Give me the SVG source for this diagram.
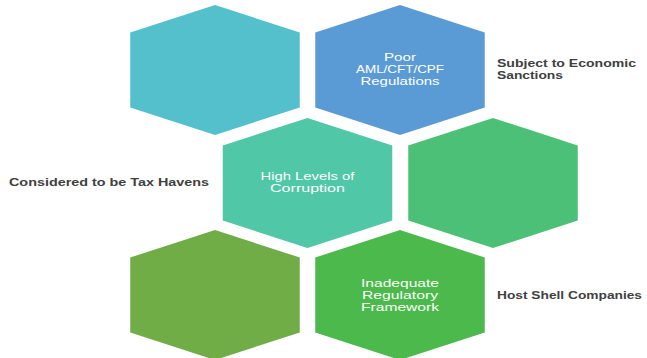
<svg xmlns="http://www.w3.org/2000/svg" xmlns:xlink="http://www.w3.org/1999/xlink" width="647" height="358" viewBox="0 0 647 358">
  <style>
    .in  { font-family: "Liberation Sans", Arial, sans-serif; font-size: 10.5px; fill: #ffffff; text-anchor: middle; }
    .out { font-family: "Liberation Sans", Arial, sans-serif; font-size: 10.5px; font-weight: bold; fill: #404040; }
  </style>
  <defs>
    <!-- flattened pointy-top hexagon centred on the origin -->
    <polygon id="hex" points="0,-65 84.75,-37.5 84.75,37.5 0,65 -84.75,37.5 -84.75,-37.5"/>
  </defs>
  <rect width="647" height="358" fill="#ffffff"/>

  <!-- top row -->
  <g id="hex-teal">
    <use xlink:href="#hex" href="#hex" transform="translate(215,70)" fill="#54C0CC"/>
  </g>
  <g id="hex-aml">
    <use xlink:href="#hex" href="#hex" transform="translate(400,70)" fill="#5B9BD5"/>
    <text class="in" x="400" y="61" textLength="32" lengthAdjust="spacingAndGlyphs">Poor</text>
    <text class="in" x="400" y="73" textLength="88" lengthAdjust="spacingAndGlyphs">AML/CFT/CPF</text>
    <text class="in" x="400" y="85" textLength="79" lengthAdjust="spacingAndGlyphs">Regulations</text>
  </g>
  <g id="label-sanctions">
    <text class="out" x="497" y="67" textLength="139" lengthAdjust="spacingAndGlyphs">Subject to Economic</text>
    <text class="out" x="497" y="79" textLength="66" lengthAdjust="spacingAndGlyphs">Sanctions</text>
  </g>

  <!-- middle row -->
  <g id="label-tax-havens">
    <text class="out" x="9" y="186" textLength="200" lengthAdjust="spacingAndGlyphs">Considered to be Tax Havens</text>
  </g>
  <g id="hex-corruption">
    <use xlink:href="#hex" href="#hex" transform="translate(307.5,183)" fill="#50C7A7"/>
    <text class="in" x="307.5" y="179.5" textLength="94" lengthAdjust="spacingAndGlyphs">High Levels of</text>
    <text class="in" x="307.5" y="191.5" textLength="75" lengthAdjust="spacingAndGlyphs">Corruption</text>
  </g>
  <g id="hex-green">
    <use xlink:href="#hex" href="#hex" transform="translate(493,183)" fill="#4BC076"/>
  </g>

  <!-- bottom row -->
  <g id="hex-olive">
    <use xlink:href="#hex" href="#hex" transform="translate(215,295)" fill="#70AD47"/>
  </g>
  <g id="hex-framework">
    <use xlink:href="#hex" href="#hex" transform="translate(400,295)" fill="#4BB94B"/>
    <text class="in" x="400" y="287" textLength="78" lengthAdjust="spacingAndGlyphs">Inadequate</text>
    <text class="in" x="400" y="299" textLength="76" lengthAdjust="spacingAndGlyphs">Regulatory</text>
    <text class="in" x="400" y="311" textLength="78" lengthAdjust="spacingAndGlyphs">Framework</text>
  </g>
  <g id="label-shell">
    <text class="out" x="497" y="299" textLength="145" lengthAdjust="spacingAndGlyphs">Host Shell Companies</text>
  </g>
</svg>
